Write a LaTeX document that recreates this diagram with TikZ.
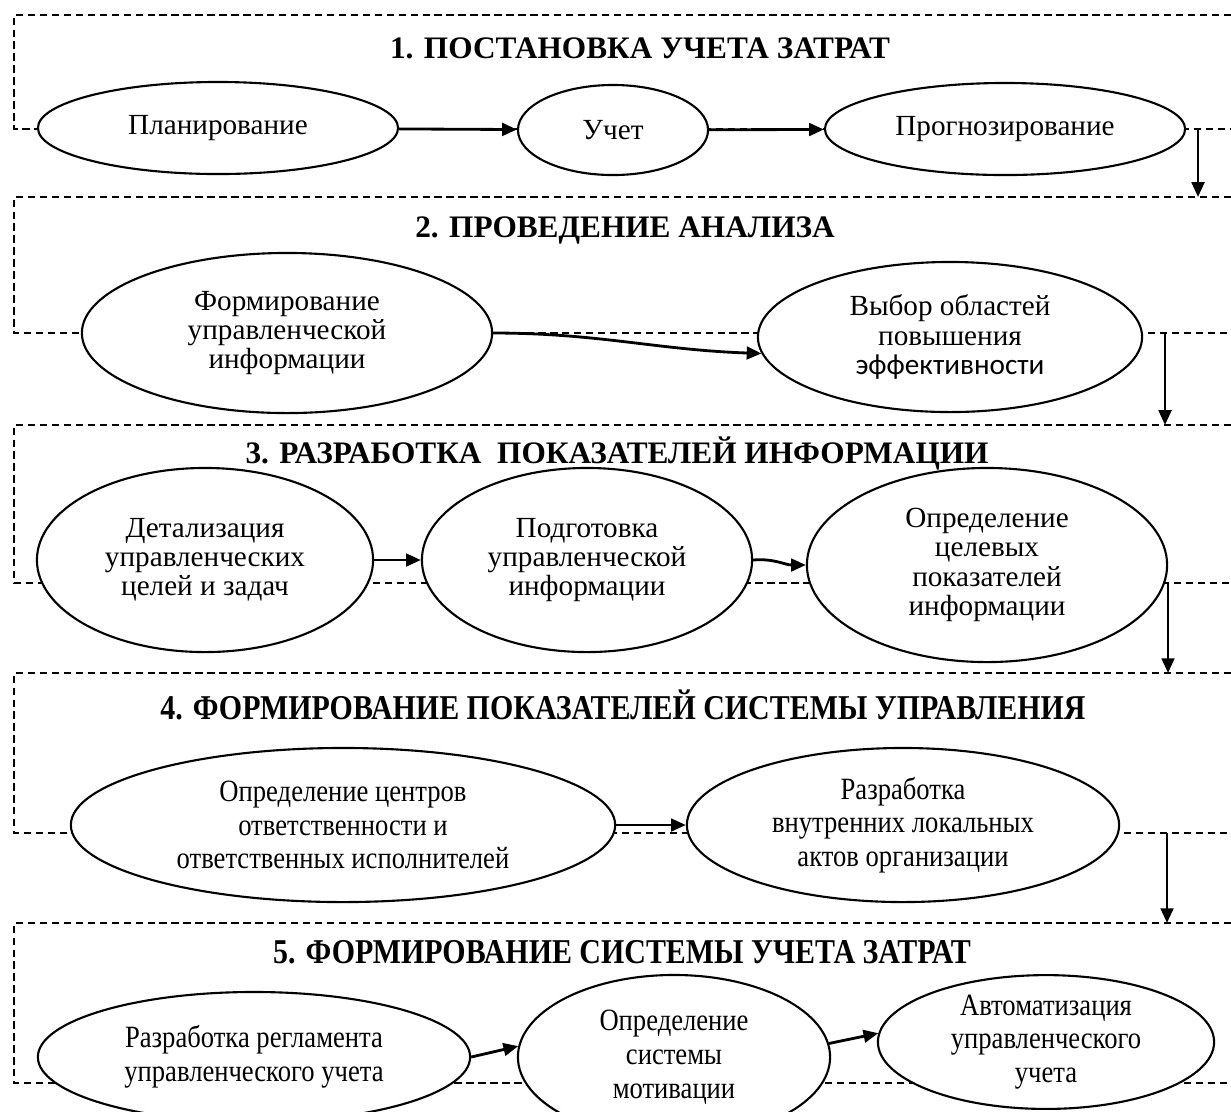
\documentclass[tikz,border=0pt]{standalone}
\usepackage{fontspec}
\setmainfont{Liberation Serif}
\newfontfamily\condfont[FakeStretch=0.86]{Liberation Serif}
\newfontfamily\calibrilike{Carlito}
\usetikzlibrary{shapes.geometric,arrows.meta,positioning}

\begin{document}
\begin{tikzpicture}[x=0.01cm, y=-0.01cm,
    dashbox/.style={line width=0.45pt, dash pattern=on 2.1pt off 1.3pt},
    oval/.style={ellipse, draw, fill=white, line width=0.6pt, inner sep=0pt, align=center,
      font=\fontsize{8.3}{8.3}\selectfont},
    condoval/.style={oval, font=\condfont\fontsize{8.8}{9.6}\selectfont},
    heading/.style={inner sep=0pt, font=\bfseries\fontsize{8.9}{9}\selectfont},
    condheading/.style={inner sep=0pt, font=\condfont\bfseries\fontsize{9.9}{10}\selectfont},
    flow/.style={line width=0.8pt, -{Triangle[length=4.2pt,width=3.6pt]}}]
  \useasboundingbox (0,0) rectangle (1231,1111);
  \clip (0,0) rectangle (1231,1111);

  % Stage frames (open on the right)
  \draw[dashbox] (1231,15) -- (14,15) -- (14,129) -- (1231,129);
  \draw[dashbox] (1231,197) -- (14,197) -- (14,333) -- (1231,333);
  \draw[dashbox] (1231,425) -- (14,425) -- (14,583) -- (1231,583);
  \draw[dashbox] (1231,673) -- (14,673) -- (14,833) -- (1231,833);
  \draw[dashbox] (1231,923) -- (14,923) -- (14,1083) -- (1231,1083);

  % 1. Stage one
  \node[heading] (t1) at (640,48) {1. ПОСТАНОВКА УЧЕТА ЗАТРАТ};
  \node[oval, minimum width=3.6cm, minimum height=0.92cm] (plan) at (218,128) {Планирование};
  \node[oval, minimum width=1.9cm, minimum height=0.9cm] (uchet) at (613,130) {Учет};
  \node[oval, minimum width=3.6cm, minimum height=0.92cm] (prognoz) at (1005,129) {Прогнозирование};
  \draw[flow] (plan) -- (uchet);
  \draw[flow] (uchet) -- (prognoz);

  % 2. Stage two
  \node[heading] (t2) at (625,230) {2. ПРОВЕДЕНИЕ АНАЛИЗА};
  \node[oval, minimum width=4.1cm, minimum height=1.6cm] (formir) at (287,333)
    {Формирование\\управленческой\\информации};
  \node[oval, minimum width=3.84cm, minimum height=1.5cm] (vybor) at (950,337)
    {Выбор областей\\повышения\\{\calibrilike эффективности}};
  \draw[flow] (formir.east) to[out=0, in=178] (vybor.185);

  % 3. Stage three
  \node[heading] (t3) at (617,453) {3. РАЗРАБОТКА\ \ ПОКАЗАТЕЛЕЙ ИНФОРМАЦИИ};
  \node[oval, minimum width=3.36cm, minimum height=1.84cm] (detal) at (205,560)
    {Детализация\\управленческих\\целей и задач};
  \node[oval, minimum width=3.3cm, minimum height=1.84cm] (podgot) at (587,560)
    {Подготовка\\управленческой\\информации};
  \node[oval, minimum width=3.6cm, minimum height=1.94cm] (opred) at (987,565)
    {Определение\\целевых\\показателей\\информации};
  \draw[flow] (detal) -- (podgot);
  \draw[flow] (podgot.east) to[out=5, in=180] (opred.west);

  % 4. Stage four
  \node[condheading] (t4) at (623,705) {4. ФОРМИРОВАНИЕ ПОКАЗАТЕЛЕЙ СИСТЕМЫ УПРАВЛЕНИЯ};
  \node[condoval, minimum width=5.44cm, minimum height=1.54cm] (centry) at (343,825)
    {Определение центров\\ответственности и\\ответственных исполнителей};
  \node[condoval, minimum width=4.32cm, minimum height=1.54cm] (akty) at (903,825)
    {Разработка\\внутренних локальных\\актов организации};
  \draw[flow] (centry) -- (akty);

  % 5. Stage five
  \node[condheading] (t5) at (622,952) {5. ФОРМИРОВАНИЕ СИСТЕМЫ УЧЕТА ЗАТРАТ};
  \node[condoval, minimum width=4.32cm, minimum height=1.3cm] (reglam) at (254,1057)
    {Разработка регламента\\управленческого учета};
  \node[condoval, minimum width=3.12cm, minimum height=1.64cm] (motiv) at (674,1057)
    {Определение\\системы\\мотивации};
  \node[condoval, minimum width=3.36cm, minimum height=1.3cm] (avtomat) at (1046,1042)
    {Автоматизация\\управленческого\\учета};
  \draw[flow] (reglam.east) -- (motiv.176);
  \draw[flow] (motiv.5) -- (avtomat.177);

  % Links between stages
  \coordinate (s1) at (1198,129);
  \coordinate (s2) at (1198,197);
  \coordinate (s3) at (1165,333);
  \coordinate (s4) at (1165,425);
  \coordinate (s5) at (1168,583);
  \coordinate (s6) at (1168,673);
  \coordinate (s7) at (1167,833);
  \coordinate (s8) at (1167,923);
  \draw[flow] (s1) -- (s2);
  \draw[flow] (s3) -- (s4);
  \draw[flow] (s5) -- (s6);
  \draw[flow] (s7) -- (s8);
\end{tikzpicture}
\end{document}
